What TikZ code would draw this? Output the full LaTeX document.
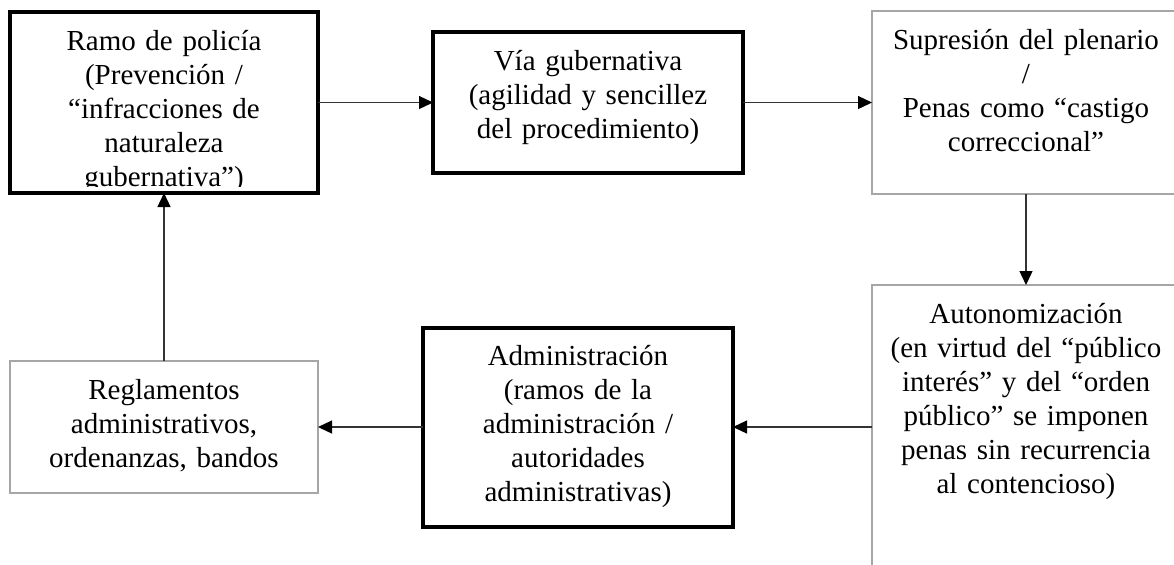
\documentclass[tikz,border=0pt]{standalone}
\usepackage{fontspec}
\setmainfont{Liberation Serif}
\usetikzlibrary{arrows.meta,positioning}

\definecolor{boxgrey}{RGB}{166,166,166}
\definecolor{linegrey}{RGB}{51,51,51}

\begin{document}
\begin{tikzpicture}[
    x=0.5pt, y=-0.5pt,
    block/.style={
        rectangle,
        draw=black,
        line width=2pt,
        minimum width=154pt,
        inner sep=0pt,
        outer sep=0pt
    },
    greyblock/.style={
        rectangle,
        draw=boxgrey,
        line width=1.3pt,
        minimum width=154pt,
        inner sep=0pt,
        outer sep=0pt
    },
    boxtext/.style={
        text width=150pt,
        align=center,
        inner sep=0pt,
        font=\fontsize{14.5}{17}\selectfont,
        execute at begin node=\strut
    },
    line/.style={
        draw=linegrey, line width=0.65pt,
        -{Triangle[length=7pt, width=6.5pt, color=black]}
    }
]

    \useasboundingbox (0,0) rectangle (1174,564);

    % Nodes
    \node [block, minimum height=90.5pt] (ramo) at (164,102.5) {};
    \node [block, minimum width=155pt, minimum height=70.5pt, right=57.5pt of ramo] (via) {};
    \node [greyblock, minimum height=91.5pt, right=64.5pt of via] (supr) {};
    \node [greyblock, minimum height=142pt, below=45.5pt of supr] (auton) {};
    \node [block, minimum width=155pt, minimum height=99.5pt, left=69.5pt of auton] (admin) {};
    \node [greyblock, minimum height=66pt, left=52.5pt of admin] (regl) {};

    % Texts
    \begin{scope}
        \clip ([yshift=3.5pt]ramo.south west) rectangle (ramo.north east);
        \node [boxtext, below=7pt of ramo.north] (ramotxt) {Ramo de policía\\ (Prevención /\\ “infracciones de\\ naturaleza\\ gubernativa”)};
    \end{scope}
    \node [boxtext, below=7pt of via.north] (viatxt) {Vía gubernativa\\ (agilidad y sencillez\\ del procedimiento)};
    \node [boxtext, below=7pt of supr.north] (suprtxt) {Supresión del plenario\\ /\\ Penas como “castigo\\ correccional”};
    \node [boxtext, below=7pt of auton.north] (autontxt) {Autonomización\\ (en virtud del “público\\ interés” y del “orden\\ público” se imponen\\ penas sin recurrencia\\ al contencioso)};
    \node [boxtext, below=7pt of admin.north] (admintxt) {Administración\\ (ramos de la\\ administración /\\ autoridades\\ administrativas)};
    \node [boxtext, below=7pt of regl.north] (regltxt) {Reglamentos\\ administrativos,\\ ordenanzas, bandos};

    % Edges
    \path [line] (ramo) -- (via);
    \path [line] (via) -- (supr);
    \path [line] (supr) -- (auton);
    \path [line] (auton) -- (admin);
    \path [line] (admin) -- (regl);
    \path [line] (regl) -- (ramo);

\end{tikzpicture}
\end{document}
